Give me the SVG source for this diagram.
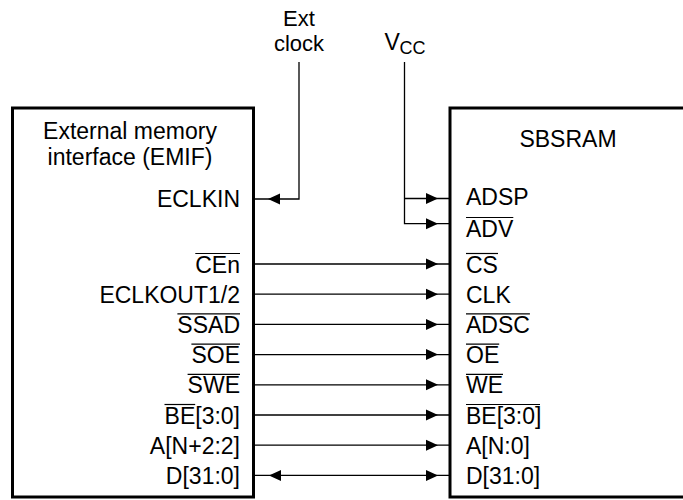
<svg xmlns="http://www.w3.org/2000/svg" xmlns:xlink="http://www.w3.org/1999/xlink" width="683" height="500" viewBox="0 0 683 500">
<style>
text{font-family:"Liberation Sans",Arial,sans-serif;font-size:23px;fill:#000}
.box{fill:#fff;stroke:#000;stroke-width:3}
.w{fill:none;stroke:#000;stroke-width:1.3}
.ol{stroke:#000;stroke-width:1.2}
.e{text-anchor:end}
.m{text-anchor:middle}
.s{font-size:22px}
</style>
<defs>
<path id="arrR" d="M0,0 L-12,-5.5 L-12,5.5 Z" fill="#000"/>
<path id="arrL" d="M0,0 L12,-5.5 L12,5.5 Z" fill="#000"/>
</defs>
<rect width="683" height="500" fill="#fff"/>
<g id="emif">
<rect class="box" x="12.5" y="108" width="241" height="389"/>
<text class="m" x="130" y="138.5">External memory</text>
<text class="m" x="130" y="164.5">interface (EMIF)</text>
<text class="e" x="240" y="207">ECLKIN</text>
<text class="e" x="240" y="272.5">CEn</text>
<line class="ol" x1="195.3" y1="253.5" x2="240" y2="253.5"/>
<text class="e" x="240" y="302.7">ECLKOUT1/2</text>
<text class="e" x="240" y="332.9">SSAD</text>
<line class="ol" x1="177.4" y1="313.9" x2="240" y2="313.9"/>
<text class="e" x="240" y="363.1">SOE</text>
<line class="ol" x1="191.4" y1="344.1" x2="240" y2="344.1"/>
<text class="e" x="240" y="393.3">SWE</text>
<line class="ol" x1="187.6" y1="374.3" x2="240" y2="374.3"/>
<text class="e" x="240" y="423.5">BE[3:0]</text>
<line class="ol" x1="164.5" y1="404.5" x2="195.2" y2="404.5"/>
<text class="e" x="240" y="453.7">A[N+2:2]</text>
<text class="e" x="240" y="483.9">D[31:0]</text>
</g>
<g id="sbsram">
<rect class="box" x="450" y="108" width="300" height="389"/>
<text class="m" x="568" y="146.5">SBSRAM</text>
<text x="466" y="205">ADSP</text>
<text x="466" y="236.5">ADV</text>
<line class="ol" x1="466" y1="217.5" x2="513.3" y2="217.5"/>
<text x="466" y="272.5">CS</text>
<line class="ol" x1="466" y1="253.5" x2="498" y2="253.5"/>
<text x="466" y="302.7">CLK</text>
<text x="466" y="332.9">ADSC</text>
<line class="ol" x1="466" y1="313.9" x2="529.9" y2="313.9"/>
<text x="466" y="363.1">OE</text>
<line class="ol" x1="466" y1="344.1" x2="499.2" y2="344.1"/>
<text x="466" y="393.3">WE</text>
<line class="ol" x1="466" y1="374.3" x2="503" y2="374.3"/>
<text x="466" y="423.5">BE[3:0]</text>
<line class="ol" x1="466" y1="404.5" x2="540" y2="404.5"/>
<text x="466" y="453.7">A[N:0]</text>
<text x="466" y="483.9">D[31:0]</text>
</g>
<g id="extclock">
<text class="m s" x="299" y="25.5">Ext</text>
<text class="m s" x="299" y="50.5">clock</text>
</g>
<g id="vcc">
<text x="384.5" y="50">V</text>
<text x="399.5" y="53.5" style="font-size:18px">CC</text>
</g>
<g id="connectors">
<polyline class="w" points="299,62 299,199 254,199"/>
<use xlink:href="#arrL" x="268" y="199"/>
<polyline class="w" points="404.5,62 404.5,223.7 450,223.7"/>
<line class="w" x1="404.5" y1="198.5" x2="450" y2="198.5"/>
<use xlink:href="#arrR" x="438" y="198.5"/>
<use xlink:href="#arrR" x="438" y="223.7"/>
<line class="w" x1="254" y1="264" x2="450" y2="264"/>
<use xlink:href="#arrR" x="438" y="264"/>
<line class="w" x1="254" y1="294.2" x2="450" y2="294.2"/>
<use xlink:href="#arrR" x="438" y="294.2"/>
<line class="w" x1="254" y1="324.4" x2="450" y2="324.4"/>
<use xlink:href="#arrR" x="438" y="324.4"/>
<line class="w" x1="254" y1="354.6" x2="450" y2="354.6"/>
<use xlink:href="#arrR" x="438" y="354.6"/>
<line class="w" x1="254" y1="384.8" x2="450" y2="384.8"/>
<use xlink:href="#arrR" x="438" y="384.8"/>
<line class="w" x1="254" y1="415" x2="450" y2="415"/>
<use xlink:href="#arrR" x="438" y="415"/>
<line class="w" x1="254" y1="445.2" x2="450" y2="445.2"/>
<use xlink:href="#arrR" x="438" y="445.2"/>
<line class="w" x1="254" y1="475.4" x2="450" y2="475.4"/>
<use xlink:href="#arrR" x="438" y="475.4"/>
<use xlink:href="#arrL" x="269" y="475.4"/>
</g>
</svg>
